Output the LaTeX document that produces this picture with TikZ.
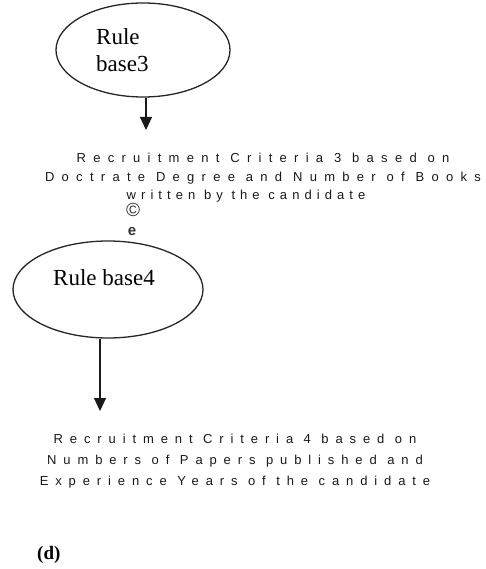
\documentclass[tikz,border=0pt]{standalone}
\usepackage{fontspec}
\setmainfont{Liberation Serif}
\newfontfamily\critfont[LetterSpace=56]{Liberation Sans}
\newfontfamily\symfont{Liberation Sans}
\usetikzlibrary{arrows.meta, positioning, shapes.geometric}

\begin{document}
\begin{tikzpicture}[x=1pt, y=-1pt,
  rule/.style={ellipse, draw=black!85, line width=1.3pt, inner sep=0pt},
  rulelabel/.style={font=\fontsize{23}{27}\selectfont, align=left, inner sep=0pt, anchor=base west},
  criteria/.style={font=\critfont\fontsize{13}{18.5}\selectfont, align=center, inner sep=0pt, anchor=base, text=black!90},
  link/.style={-{Triangle[width=12pt,length=13pt]}, line width=1.2pt, draw=black!90},
  sym/.style={font=\symfont\fontsize{19}{19}\selectfont, inner sep=0pt, text=black!80}]
  \useasboundingbox (0,0) rectangle (485,569);

  % upper rule base
  \node[rule, minimum width=174pt, minimum height=94pt] (rb3) at (143,50) {};
  \node[rulelabel] (rb3label) at (96,71.5) {Rule\\base3};
  \coordinate (t3) at (146,130);
  \node[criteria] (rc3) at (263,200) {Recruitment Criteria 3 based on\\Doctrate Degree and Number of Books\\{\addfontfeature{LetterSpace=39}written by the candidate}\hspace*{34pt}};
  \node[sym] (copy) at (133,210) {©};
  \node[sym, font=\symfont\bfseries\fontsize{15}{15}\selectfont] (cursor) at (132,232) {e};

  % lower rule base
  \node[rule, minimum width=190pt, minimum height=97pt] (rb4) at (108,289.5) {};
  \node[rulelabel] (rb4label) at (53,285.5) {Rule base4};
  \coordinate (t4) at (100,411);
  \node[criteria, font=\critfont\addfontfeature{LetterSpace=53}\fontsize{13}{20.7}\selectfont] (rc4) at (235,485) {Recruitment Criteria 4 based on\\Numbers of Papers published and\\Experience Years of the candidate};

  \draw[link] (t3 |- rb3.south) -- (t3);
  \draw[link] (t4 |- rb4.south) -- (t4);

  \node[font=\bfseries\fontsize{19}{22}\selectfont, inner sep=0pt, anchor=base west] (caption) at (37,559) {(d)};
\end{tikzpicture}
\end{document}
